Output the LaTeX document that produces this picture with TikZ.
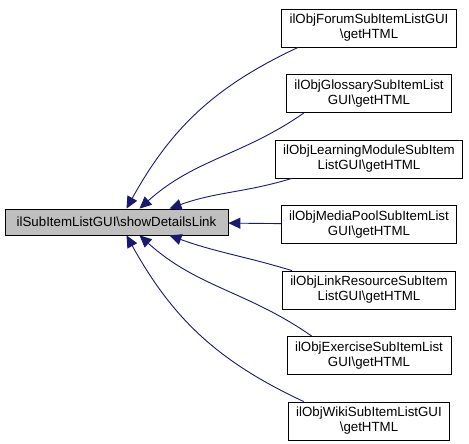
\documentclass[tikz,border=0pt]{standalone}
\usepackage{fontspec}
\setmainfont{Liberation Sans}
\usetikzlibrary{arrows.meta, positioning}
\definecolor{edgeblue}{RGB}{25,25,112}
\definecolor{focusgray}{RGB}{191,191,191}

\begin{document}
\begin{tikzpicture}[
    x=1pt, y=1pt,
    node distance=26.7pt,
    caller/.style={rectangle, draw=black, fill=white, line width=0.8pt, minimum height=38pt, inner xsep=8pt, align=center, font=\fontsize{13.3}{15}\selectfont},
    focus/.style={rectangle, draw=black, fill=focusgray, line width=0.8pt, minimum height=26pt, inner xsep=11.7pt, font=\fontsize{13.3}{15}\selectfont},
    arrow/.style={-{Triangle[length=12pt, width=11pt]}, edgeblue, line width=0.9pt},
]
    \useasboundingbox (0,0) rectangle (469,444);

    % Focus function
    \node[focus] (showlink) at (116.5,222) {ilSubItemListGUI\textbackslash showDetailsLink};

    % Callers
    \node[caller] (forum) at (369,416) {ilObjForumSubItemListGUI\\\textbackslash getHTML};
    \node[caller, below=of forum] (glossary) {ilObjGlossarySubItemList\\GUI\textbackslash getHTML};
    \node[caller, below=of glossary] (lm) {ilObjLearningModuleSubItem\\ListGUI\textbackslash getHTML};
    \node[caller, below=of lm] (mediapool) {ilObjMediaPoolSubItemList\\GUI\textbackslash getHTML};
    \node[caller, below=of mediapool] (linkres) {ilObjLinkResourceSubItem\\ListGUI\textbackslash getHTML};
    \node[caller, below=of linkres] (exercise) {ilObjExerciseSubItemList\\GUI\textbackslash getHTML};
    \node[caller, below=of exercise] (wiki) {ilObjWikiSubItemListGUI\\\textbackslash getHTML};

    % Arrows: callers to focus
    \draw[arrow] ([xshift=17pt]forum.south west) to[out=205, in=61] ([xshift=10pt]showlink.north);
    \draw[arrow] ([xshift=18pt]glossary.south west) to[out=215, in=42] ([xshift=23pt]showlink.north);
    \draw[arrow] ([xshift=17pt]lm.south west) to[out=197, in=20] ([xshift=53pt]showlink.north);
    \draw[arrow] (mediapool) -- (showlink);
    \draw[arrow] ([xshift=10pt]linkres.north west) to[out=163, in=-20] ([xshift=53pt]showlink.south);
    \draw[arrow] ([xshift=25pt]exercise.north west) to[out=145, in=-42] ([xshift=23pt]showlink.south);
    \draw[arrow] ([xshift=16pt]wiki.north west) to[out=155, in=-61] ([xshift=10pt]showlink.south);

\end{tikzpicture}
\end{document}
